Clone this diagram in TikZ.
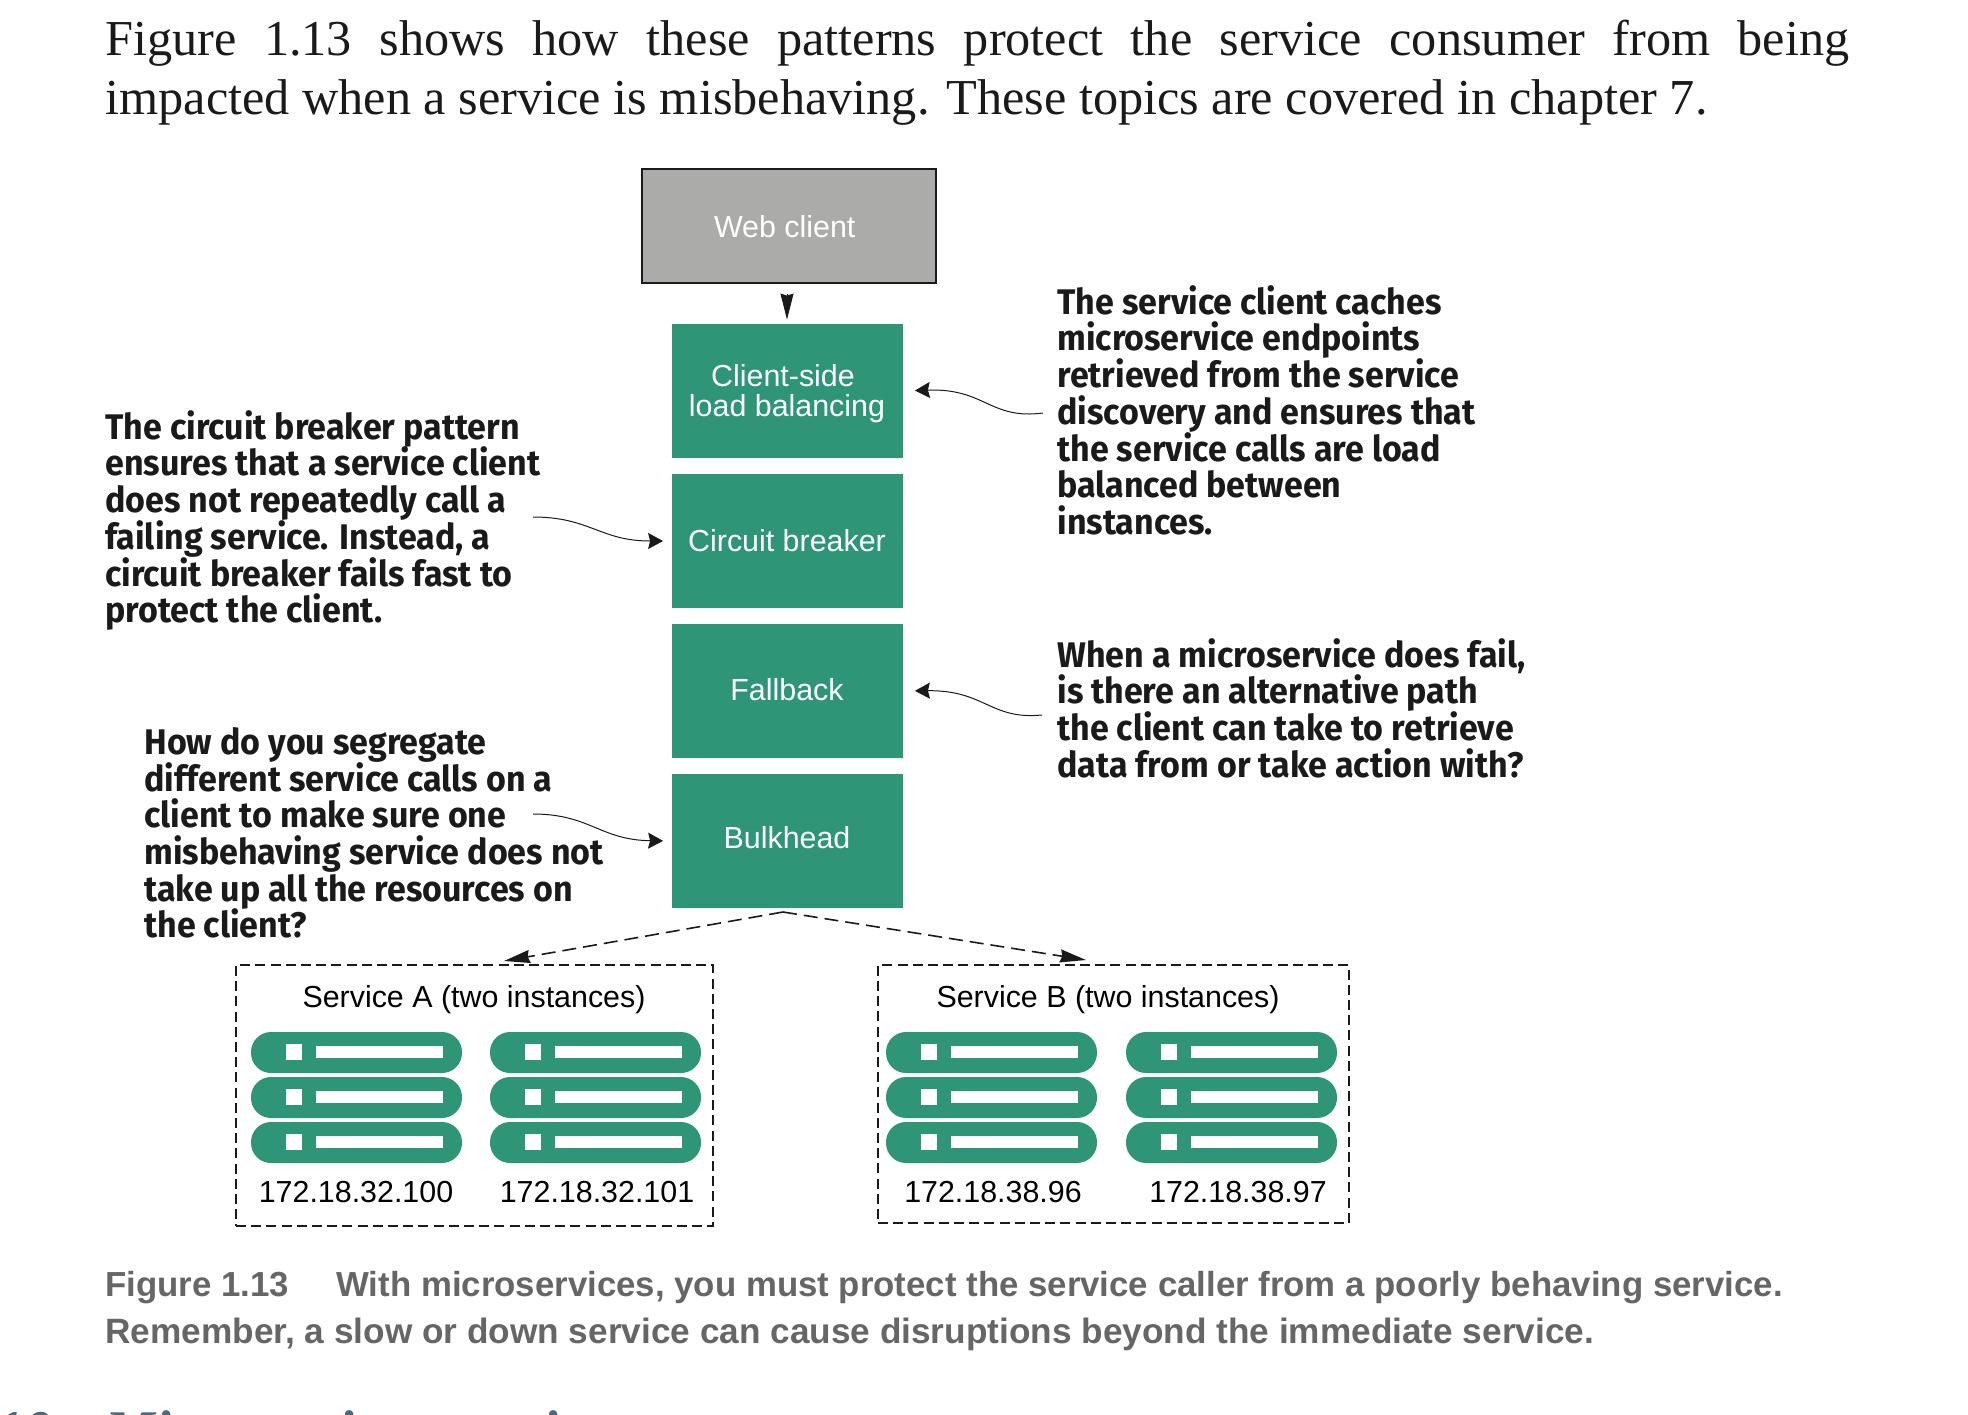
\documentclass[tikz,border=0pt]{standalone}
\usepackage{fontspec}
\setmainfont{Liberation Serif}
\setsansfont{Liberation Sans}
\newfontfamily\calloutfamily[FakeStretch=0.955]{Fira Sans}
\newcommand{\calloutfont}{\calloutfamily\bfseries\fontsize{17.8}{18.35}\selectfont\setlength{\lineskiplimit}{-6pt}}
\usetikzlibrary{arrows.meta}
\definecolor{tealbox}{HTML}{2E9677}
\definecolor{greybox}{HTML}{ABABA9}
\definecolor{inkblack}{HTML}{1A1A1A}
\definecolor{captiongrey}{HTML}{666666}
\definecolor{headblue}{HTML}{466A82}
\tikzset{
	stack/.style={fill=tealbox,minimum width=115.5pt,minimum height=67pt,inner sep=0pt,
		text=white,align=center,font=\sffamily\fontsize{15.2}{15}\selectfont},
	callout/.style={anchor=north west,inner sep=0pt,align=left,text=inkblack,font=\calloutfont},
	iplabel/.style={inner sep=0pt,text=black,font=\sffamily\fontsize{15.2}{15}\selectfont},
	pointer/.style={-{Stealth[length=7.5pt,width=8pt,inset=1pt]},line width=0.5pt,inkblack},
	drop/.style={-{Stealth[length=13pt,width=6.5pt,inset=1pt]},line width=0.5pt,inkblack},
	fork/.style={-{Stealth[length=13pt,width=6.5pt,inset=1pt]},line width=0.8pt,inkblack,dash pattern=on 7pt off 3.5pt},
	groupbox/.style={draw=inkblack,line width=0.8pt,dash pattern=on 5pt off 2.6pt,inner sep=0pt},
	captionline/.style={anchor=base west,inner sep=0pt,text=captiongrey,font=\sffamily\bfseries\fontsize{17.6}{17.6}\selectfont},
	headline/.style={anchor=base west,inner sep=0pt,text=headblue,font=\bfseries\itshape\fontsize{28}{28}\selectfont},
}
\begin{document}
\begin{tikzpicture}[x=0.5pt,y=-0.5pt]

\useasboundingbox (0,0) rectangle (1968,1414);

\node[anchor=north west,inner sep=0pt,text width=872pt,align=justify,text=inkblack,
	font=\fontsize{25.15}{29.5}\selectfont] (intro) at (105,20) {Figure 1.13 shows how these patterns protect the service consumer from being\linebreak
	impacted when a service is misbehaving. These topics are covered in chapter 7.};

\node[stack,fill=greybox,draw=inkblack,line width=1pt,minimum width=147pt,minimum height=57pt] (webclient) at (788.5,225.5) {\rule{0pt}{12.3pt}Web client\hspace*{3.8pt}};
\node[stack] (clientlb) at (787,391) {\rule{0pt}{13.6pt}Client-side\hspace*{4pt}\\load balancing};
\node[stack] (circuit) at (787,541) {\raisebox{1pt}{Circuit breaker}};
\node[stack] (fallback) at (787,691) {\raisebox{1.7pt}{Fallback}};
\node[stack] (bulkhead) at (787,841) {\raisebox{3.5pt}{Bulkhead}};

\draw[drop,shorten <=5pt,shorten >=2pt] (webclient.south -| clientlb.north) -- (clientlb.north);

\node[callout] (cachetext) at (1057,285) {The service client caches\\microservice endpoints\\retrieved from the service\\discovery and ensures that\\the service calls are load\\balanced between\\instances.};
\node[callout] (breakertext) at (105,410) {The circuit breaker pattern\\ensures that a service client\\does not repeatedly call a\\failing service. Instead, a\\circuit breaker fails fast to\\protect the client.};
\node[callout] (fallbacktext) at (1057,638) {When a microservice does fail,\\is there an alternative path\\the client can take to retrieve\\data from or take action with?};
\node[callout] (bulkheadtext) at (144,727) {How do you segregate\\different service calls on a\\client to make sure one\\misbehaving service does not\\take up all the resources on\\the client?};

\coordinate (cachefrom) at (1043,413);
\coordinate (breakerfrom) at (533,517);
\coordinate (fallbackfrom) at (1042,715);
\coordinate (bulkheadfrom) at (533,814);

\draw[pointer,shorten >=6pt] (cachefrom) .. controls (990,420) and (985,388) .. (clientlb.east);
\draw[pointer,shorten >=4pt] (breakerfrom) .. controls (590,517) and (600,541) .. (circuit.west);
\draw[pointer,shorten >=6pt] (fallbackfrom) .. controls (990,720) and (985,690) .. (fallback.east);
\draw[pointer,shorten >=4pt] (bulkheadfrom) .. controls (590,814) and (600,840) .. (bulkhead.west);

\node[groupbox,minimum width=238.5pt,minimum height=130.5pt] (servicea) at (474.5,1095.5) {};
\node[groupbox,minimum width=235.5pt,minimum height=129pt] (serviceb) at (1113.5,1094) {};

\coordinate (forktop) at (783,912);
\coordinate (forka) at (504,961);
\coordinate (forkb) at (1086,960);
\draw[fork] (forktop) -- (forka);
\draw[fork] (forktop) -- (forkb);

\node[iplabel] (servicealabel) at (474,1000) {Service A (two instances)};
\node[iplabel] (serviceblabel) at (1108,1000) {Service B (two instances)};

\foreach \px in {251,490,886,1126}{
	\foreach \py in {1032,1077,1122}{
		\fill[tealbox,rounded corners=10pt] (\px,\py) rectangle ++(211,41);
		\fill[white] (\px+35,\py+12) rectangle ++(16,16);%led
		\fill[white] (\px+65,\py+14) rectangle ++(127,12);%slot
	}
}

\node[iplabel] (ipaone) at (356,1192) {172.18.32.100};
\node[iplabel] (ipatwo) at (597,1192) {172.18.32.101};
\node[iplabel] (ipbone) at (993,1192) {172.18.38.96};
\node[iplabel] (ipbtwo) at (1238,1192) {172.18.38.97};

\node[captionline,font=\sffamily\bfseries\fontsize{17.4}{17.4}\selectfont] (captionone) at (105,1296) {\makebox[115.5pt][l]{Figure 1.13}With microservices, you must protect the service caller from a poorly behaving service.};
\node[captionline] (captiontwo) at (105,1343) {Remember, a slow or down service can cause disruptions beyond the immediate service.};

\node[headline,anchor=base east] (headnumber) at (52,1449) {1.10};
\node[headline] (headtitle) at (105,1449) {Microservice security patterns};

\end{tikzpicture}
\end{document}
